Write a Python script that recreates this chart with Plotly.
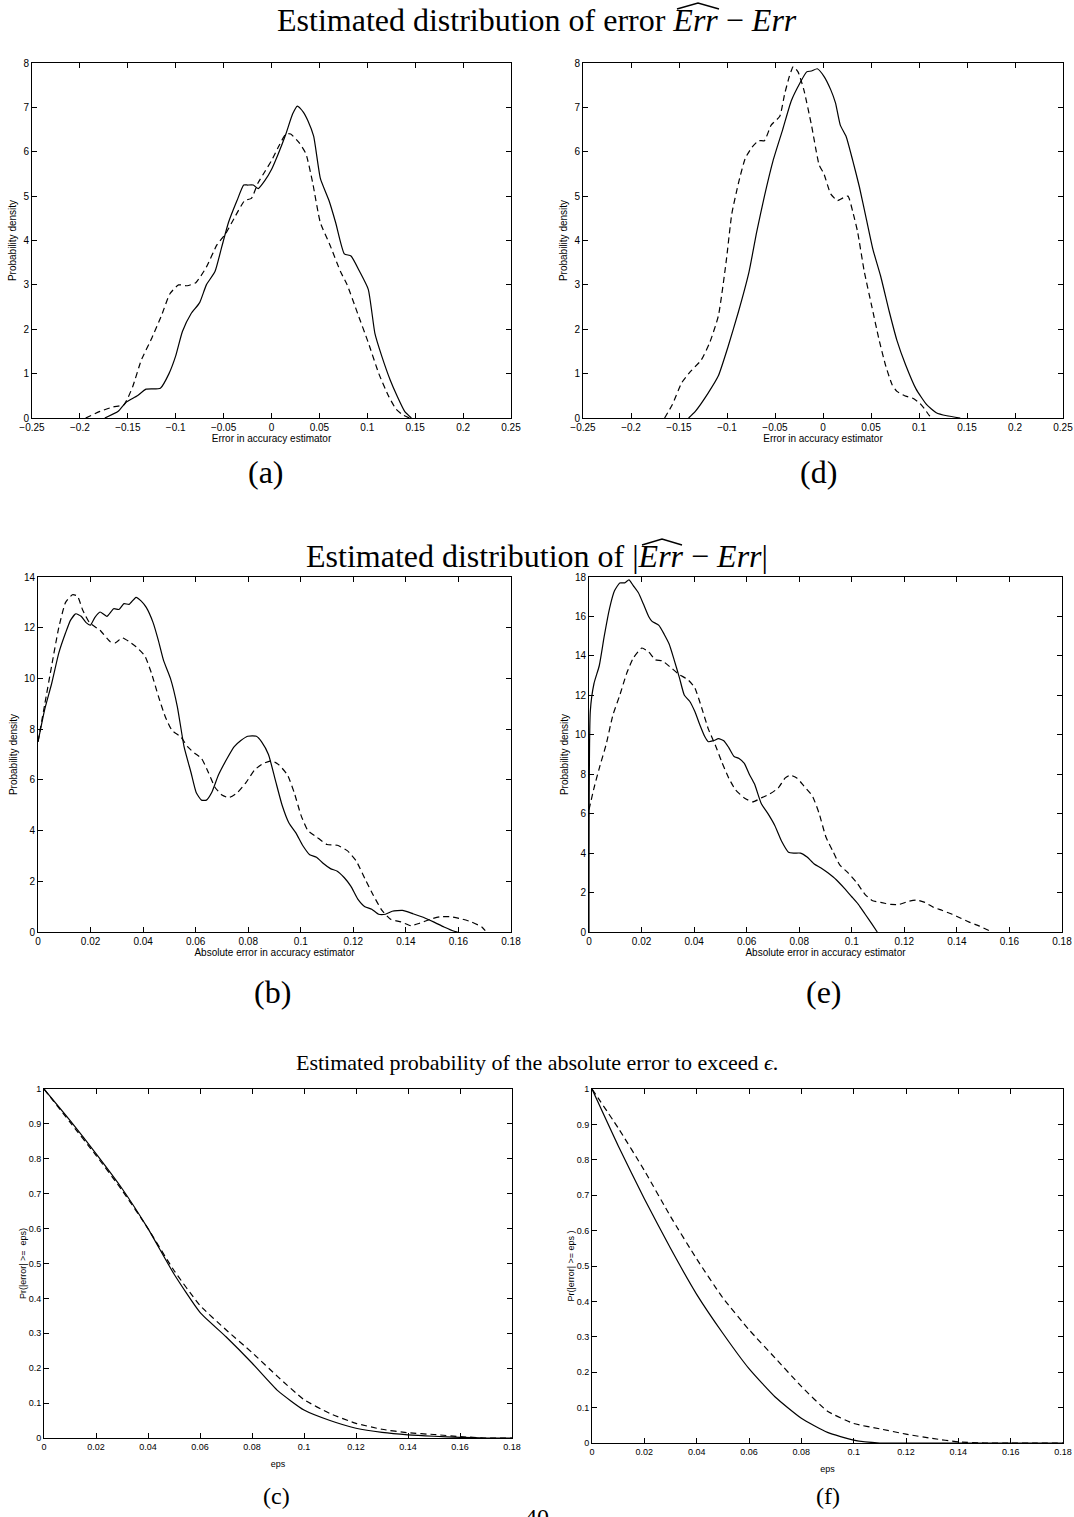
import plotly.graph_objects as go

W, H = 1074, 1517

# ---------------- data ----------------
# (a) error distribution, left column
a_solid_x = [-0.174, -0.16, -0.152, -0.14, -0.131, -0.116, -0.107, -0.1, -0.093, -0.084, -0.075, -0.068,
             -0.059, -0.052, -0.045, -0.036, -0.029, -0.025, -0.019, -0.014, -0.007, 0.0, 0.007, 0.015,
             0.022, 0.027, 0.033, 0.038, 0.044, 0.051, 0.06, 0.067, 0.076, 0.083, 0.092, 0.101, 0.108,
             0.115, 0.124, 0.131, 0.139, 0.146]
a_solid_y = [0.0, 0.15, 0.35, 0.5, 0.65, 0.67, 1.0, 1.4, 1.95, 2.35, 2.6, 3.0,
             3.3, 3.85, 4.4, 4.9, 5.25, 5.25, 5.25, 5.17, 5.35, 5.6, 5.95, 6.4,
             6.85, 7.03, 6.9, 6.7, 6.35, 5.4, 4.9, 4.4, 3.7, 3.65, 3.3, 2.9, 1.9,
             1.4, 0.85, 0.5, 0.15, 0.0]
a_dash_x = [-0.194, -0.179, -0.165, -0.154, -0.145, -0.136, -0.125, -0.115, -0.106, -0.097, -0.088,
            -0.079, -0.068, -0.057, -0.048, -0.039, -0.028, -0.021, -0.014, -0.007, 0.0, 0.007, 0.015,
            0.02, 0.029, 0.036, 0.043, 0.051, 0.061, 0.072, 0.079, 0.09, 0.101, 0.112, 0.122, 0.13,
            0.137, 0.144]
a_dash_y = [0.0, 0.15, 0.25, 0.3, 0.7, 1.3, 1.8, 2.3, 2.8, 3.0, 2.98,
            3.05, 3.4, 3.9, 4.15, 4.5, 4.9, 4.95, 5.3, 5.55, 5.8, 6.1, 6.4,
            6.4, 6.2, 5.95, 5.3, 4.4, 3.9, 3.3, 3.0, 2.35, 1.7, 1.0, 0.5, 0.2,
            0.07, 0.0]

# (d) error distribution, right column
d_solid_x = [-0.14, -0.133, -0.12, -0.109, -0.099, -0.088, -0.077, -0.069, -0.061, -0.052, -0.042,
             -0.033, -0.024, -0.017, -0.012, -0.006, 0.001, 0.008, 0.013, 0.018, 0.024, 0.031, 0.038,
             0.045, 0.052, 0.06, 0.069, 0.077, 0.086, 0.097, 0.108, 0.118, 0.129, 0.143]
d_solid_y = [0.0, 0.15, 0.55, 0.95, 1.6, 2.4, 3.3, 4.2, 5.0, 5.8, 6.5,
             7.15, 7.55, 7.8, 7.82, 7.87, 7.7, 7.4, 7.1, 6.6, 6.35, 5.8, 5.2,
             4.5, 3.8, 3.2, 2.4, 1.75, 1.2, 0.65, 0.3, 0.12, 0.05, 0.0]
d_dash_x = [-0.165, -0.157, -0.147, -0.138, -0.127, -0.118, -0.109, -0.101, -0.095, -0.088, -0.081,
            -0.074, -0.067, -0.061, -0.054, -0.045, -0.04, -0.035, -0.031, -0.026, -0.02, -0.012,
            -0.004, 0.001, 0.008, 0.015, 0.02, 0.026, 0.031, 0.036, 0.043, 0.051, 0.058, 0.065,
            0.072, 0.077, 0.085, 0.093, 0.1, 0.106, 0.111, 0.115]
d_dash_y = [0.0, 0.3, 0.8, 1.05, 1.3, 1.7, 2.3, 3.5, 4.6, 5.3, 5.85,
            6.1, 6.25, 6.25, 6.6, 6.8, 7.3, 7.7, 7.92, 7.8, 7.4, 6.6,
            5.7, 5.5, 5.05, 4.9, 4.95, 5.0, 4.65, 4.2, 3.3, 2.5, 1.8, 1.2,
            0.75, 0.6, 0.5, 0.45, 0.35, 0.2, 0.05, 0.0]

# (b) absolute error distribution, left column
b_solid_x = [0.0, 0.0026, 0.0052, 0.0079, 0.0105, 0.0124, 0.0144, 0.0164, 0.0183, 0.0199, 0.0216,
             0.0236, 0.0262, 0.0288, 0.0308, 0.0327, 0.0347, 0.0373, 0.0393, 0.0412, 0.0438, 0.0458,
             0.0478, 0.0504, 0.053, 0.0556, 0.0582, 0.0602, 0.0622, 0.0641, 0.0661, 0.0687, 0.072,
             0.0746, 0.0772, 0.0798, 0.0831, 0.0851, 0.0877, 0.0903, 0.0929, 0.0955, 0.0982, 0.1008,
             0.1034, 0.106, 0.1086, 0.1113, 0.1139, 0.1165, 0.1191, 0.1217, 0.1244, 0.127, 0.1296,
             0.1322, 0.1348, 0.1387, 0.1427, 0.1466, 0.1505, 0.1545, 0.1584, 0.1597]
b_solid_y = [7.5, 8.8, 9.8, 11.0, 11.8, 12.3, 12.55, 12.45, 12.2, 12.1, 12.4,
             12.62, 12.45, 12.75, 12.72, 12.95, 12.92, 13.2, 13.05, 12.8, 12.2, 11.5,
             10.7, 10.0, 8.9, 7.3, 6.3, 5.5, 5.2, 5.2, 5.5, 6.2, 6.85,
             7.3, 7.55, 7.72, 7.72, 7.5, 7.0, 6.0, 5.0, 4.3, 3.9, 3.4,
             3.05, 2.95, 2.7, 2.5, 2.4, 2.15, 1.8, 1.3, 1.0, 0.9, 0.7,
             0.7, 0.82, 0.85, 0.72, 0.58, 0.4, 0.2, 0.03, 0.0]
b_dash_x = [0.0, 0.0026, 0.0052, 0.0079, 0.0105, 0.0131, 0.015, 0.017, 0.0196, 0.0236, 0.0275,
            0.0294, 0.0321, 0.0347, 0.0373, 0.0406, 0.0432, 0.0458, 0.0484, 0.051, 0.0543, 0.057,
            0.0596, 0.0622, 0.0648, 0.0674, 0.07, 0.0726, 0.0759, 0.0792, 0.0825, 0.0858, 0.089,
            0.0916, 0.0949, 0.0975, 0.1001, 0.1027, 0.106, 0.11, 0.1139, 0.1178, 0.1211, 0.1244,
            0.1276, 0.1309, 0.1342, 0.1381, 0.142, 0.1453, 0.1492, 0.1531, 0.1571, 0.161, 0.1649,
            0.1689, 0.1702]
b_dash_y = [7.5, 9.0, 10.5, 12.0, 13.0, 13.3, 13.25, 12.7, 12.2, 11.9, 11.45,
            11.4, 11.6, 11.45, 11.25, 10.9, 10.2, 9.3, 8.5, 7.95, 7.7, 7.3,
            7.05, 6.85, 6.3, 5.7, 5.4, 5.3, 5.5, 5.9, 6.4, 6.65, 6.75,
            6.6, 6.2, 5.5, 4.6, 4.0, 3.75, 3.45, 3.42, 3.2, 2.8, 2.1,
            1.45, 0.85, 0.5, 0.4, 0.25, 0.35, 0.5, 0.6, 0.6, 0.52, 0.4,
            0.2, 0.05]

# (e) absolute error distribution, right column
e_solid_x = [0.0, 0.0005, 0.0019, 0.0039, 0.0058, 0.0078, 0.0097, 0.0117, 0.0136, 0.0152, 0.0169,
             0.0188, 0.0208, 0.0227, 0.024, 0.0266, 0.0286, 0.0305, 0.0324, 0.0344, 0.0363, 0.0383,
             0.0402, 0.0422, 0.0441, 0.0454, 0.0474, 0.0493, 0.0513, 0.0532, 0.0552, 0.0571, 0.0591,
             0.061, 0.063, 0.0656, 0.0681, 0.0707, 0.0733, 0.0759, 0.0779, 0.0805, 0.083, 0.0857,
             0.0883, 0.0909, 0.0941, 0.0973, 0.0999, 0.1025, 0.1051, 0.1077, 0.1097]
e_solid_y = [0.0, 11.2, 12.6, 13.5, 15.0, 16.4, 17.3, 17.7, 17.7, 17.85, 17.55,
             17.2, 16.6, 16.0, 15.75, 15.55, 15.1, 14.6, 13.8, 12.9, 12.0, 11.7,
             11.2, 10.5, 9.9, 9.65, 9.7, 9.8, 9.7, 9.35, 8.9, 8.8, 8.55,
             8.0, 7.5, 6.5, 6.0, 5.4, 4.6, 4.05, 4.0, 4.0, 3.8, 3.45,
             3.25, 3.0, 2.65, 2.2, 1.8, 1.4, 0.9, 0.4, 0.0]
e_dash_x = [0.0, 0.0019, 0.0039, 0.0065, 0.0091, 0.0117, 0.0143, 0.0169, 0.0201, 0.0227, 0.0253,
            0.0279, 0.0312, 0.0344, 0.0376, 0.0402, 0.0428, 0.0454, 0.048, 0.0506, 0.0532, 0.0558,
            0.0591, 0.0623, 0.0656, 0.0688, 0.072, 0.0746, 0.0766, 0.0792, 0.0818, 0.085, 0.0876,
            0.0902, 0.0928, 0.0954, 0.0986, 0.1019, 0.1051, 0.1077, 0.111, 0.1149, 0.1181, 0.1214,
            0.1246, 0.1278, 0.1311, 0.1343, 0.1382, 0.1415, 0.1447, 0.1486, 0.1525]
e_dash_y = [6.2, 7.3, 8.3, 9.5, 11.0, 12.0, 13.1, 13.9, 14.4, 14.2, 13.8,
            13.75, 13.4, 13.05, 12.8, 12.4, 11.4, 10.3, 9.5, 8.6, 7.8, 7.2,
            6.8, 6.6, 6.8, 7.0, 7.3, 7.8, 7.95, 7.8, 7.4, 6.9, 6.0,
            4.8, 4.1, 3.4, 3.0, 2.5, 1.9, 1.6, 1.5, 1.4, 1.4, 1.55,
            1.62, 1.5, 1.25, 1.1, 0.9, 0.7, 0.5, 0.3, 0.05]

# (c) exceedance probability, left column
eps_grid = [0.0, 0.01, 0.02, 0.03, 0.04, 0.05, 0.06, 0.07, 0.08, 0.09, 0.1, 0.11, 0.12, 0.13, 0.14,
            0.15, 0.16, 0.17, 0.18]
c_solid_y = [1.0, 0.91, 0.815, 0.715, 0.6, 0.47, 0.36, 0.29, 0.215, 0.135, 0.08, 0.05, 0.028,
             0.016, 0.009, 0.005, 0.002, 0.0, 0.0]
c_dash_y = [1.0, 0.905, 0.81, 0.71, 0.6, 0.48, 0.38, 0.31, 0.245, 0.175, 0.11, 0.07, 0.042,
            0.025, 0.015, 0.01, 0.004, 0.0, 0.0]
# (f) exceedance probability, right column
f_solid_y = [1.0, 0.84, 0.69, 0.55, 0.42, 0.31, 0.21, 0.13, 0.07, 0.03, 0.008, 0.0, 0.0,
             0.0, 0.0, 0.0, 0.0, 0.0, 0.0]
f_dash_y = [1.0, 0.89, 0.77, 0.64, 0.52, 0.41, 0.32, 0.24, 0.16, 0.09, 0.055, 0.04, 0.025,
            0.013, 0.003, 0.0, 0.0, 0.0, 0.0]

# tick definitions
err_ticks = [-0.25, -0.2, -0.15, -0.1, -0.05, 0, 0.05, 0.1, 0.15, 0.2, 0.25]
err_ticktext = ["\u22120.25", "\u22120.2", "\u22120.15", "\u22120.1", "\u22120.05", "0",
                "0.05", "0.1", "0.15", "0.2", "0.25"]
abs_ticks = [0, 0.02, 0.04, 0.06, 0.08, 0.1, 0.12, 0.14, 0.16, 0.18]
abs_ticktext = ["0", "0.02", "0.04", "0.06", "0.08", "0.1", "0.12", "0.14", "0.16", "0.18"]
dens8_ticks = [0, 1, 2, 3, 4, 5, 6, 7, 8]
dens14_ticks = [0, 2, 4, 6, 8, 10, 12, 14]
dens18_ticks = [0, 2, 4, 6, 8, 10, 12, 14, 16, 18]
prob_ticks = [0, 0.1, 0.2, 0.3, 0.4, 0.5, 0.6, 0.7, 0.8, 0.9, 1]
prob_ticktext = ["0", "0.1", "0.2", "0.3", "0.4", "0.5", "0.6", "0.7", "0.8", "0.9", "1"]

# ---------------- layout ----------------
SANS = "Liberation Sans, Arial, sans-serif"
NARROW = "Liberation Sans Narrow, Liberation Sans, Arial, sans-serif"
SERIF = "Liberation Serif, Times New Roman, serif"

panels = [
    dict(box=(32, 511, 63, 418), sx=a_solid_x, sy=a_solid_y, dx=a_dash_x, dy=a_dash_y,
         xr=[-0.25, 0.25], yr=[0, 8], xt=err_ticks, xtt=err_ticktext, yt=dens8_ticks,
         xtitle="Error in accuracy estimator", ytitle="Probability density", font=SANS, fs=10,
         xstand=0, ystand=4),
    dict(box=(583, 1063, 63, 418), sx=d_solid_x, sy=d_solid_y, dx=d_dash_x, dy=d_dash_y,
         xr=[-0.25, 0.25], yr=[0, 8], xt=err_ticks, xtt=err_ticktext, yt=dens8_ticks,
         xtitle="Error in accuracy estimator", ytitle="Probability density", font=SANS, fs=10,
         xstand=0, ystand=4),
    dict(box=(38, 511, 577, 932), sx=b_solid_x, sy=b_solid_y, dx=b_dash_x, dy=b_dash_y,
         xr=[0, 0.18], yr=[0, 14], xt=abs_ticks, xtt=abs_ticktext, yt=dens14_ticks,
         xtitle="Absolute error in accuracy estimator", ytitle="Probability density", font=SANS, fs=10,
         xstand=0, ystand=4),
    dict(box=(589, 1062, 577, 932), sx=e_solid_x, sy=e_solid_y, dx=e_dash_x, dy=e_dash_y,
         xr=[0, 0.18], yr=[0, 18], xt=abs_ticks, xtt=abs_ticktext, yt=dens18_ticks,
         xtitle="Absolute error in accuracy estimator", ytitle="Probability density", font=SANS, fs=10,
         xstand=0, ystand=4),
    dict(box=(44, 512, 1089, 1438), sx=eps_grid, sy=c_solid_y, dx=eps_grid, dy=c_dash_y,
         xr=[0, 0.18], yr=[0, 1], xt=abs_ticks, xtt=abs_ticktext, yt=prob_ticks, ytt=prob_ticktext,
         xtitle="eps", ytitle="Pr(|error| >=  eps)", font=NARROW, fs=9, xstand=9, ystand=0),
    dict(box=(592, 1063, 1089, 1443), sx=eps_grid, sy=f_solid_y, dx=eps_grid, dy=f_dash_y,
         xr=[0, 0.18], yr=[0, 1], xt=abs_ticks, xtt=abs_ticktext, yt=prob_ticks, ytt=prob_ticktext,
         xtitle="eps", ytitle="Pr(|error| >= eps )", font=NARROW, fs=9, xstand=9, ystand=0),
]

fig = go.Figure()
layout = dict(width=W, height=H, margin=dict(l=0, r=0, t=0, b=0, autoexpand=False),
              paper_bgcolor="white", plot_bgcolor="white", showlegend=False)

for i, p in enumerate(panels, start=1):
    x0, x1, y0, y1 = p["box"]
    xa = "xaxis" if i == 1 else f"xaxis{i}"
    ya = "yaxis" if i == 1 else f"yaxis{i}"
    xr_ = "x" if i == 1 else f"x{i}"
    yr_ = "y" if i == 1 else f"y{i}"
    common = dict(showline=True, linecolor="black", linewidth=1, mirror="ticks", ticks="inside",
                  ticklen=5, tickcolor="black", tickwidth=1, showgrid=False, zeroline=False,
                  automargin=False,
                  tickfont=dict(family=p["font"], size=p["fs"], color="black"))
    layout[xa] = dict(common, domain=[x0 / W, x1 / W], anchor=yr_, range=p["xr"],
                      tickmode="array", tickvals=p["xt"], ticktext=p["xtt"],
                      title=dict(text=p["xtitle"], font=dict(family=p["font"], size=p["fs"], color="black"),
                                 standoff=p["xstand"]))
    layout[ya] = dict(common, domain=[1 - y1 / H, 1 - y0 / H], anchor=xr_, range=p["yr"],
                      tickmode="array", tickvals=p["yt"],
                      ticktext=p.get("ytt", [str(v) for v in p["yt"]]),
                      title=dict(text=p["ytitle"], font=dict(family=p["font"], size=p["fs"], color="black"),
                                 standoff=p["ystand"]))
    fig.add_trace(go.Scatter(x=p["sx"], y=p["sy"], mode="lines", xaxis=xr_, yaxis=yr_,
                             line=dict(color="black", width=1.2, shape="spline", smoothing=0.5)))
    fig.add_trace(go.Scatter(x=p["dx"], y=p["dy"], mode="lines", xaxis=xr_, yaxis=yr_,
                             line=dict(color="black", width=1.2, dash="6px,4px", shape="spline",
                                       smoothing=0.5)))

annotations = []


def add_text(text, cx, cy, size=32, font=SERIF):
    annotations.append(dict(text=text, x=cx / W, y=1 - cy / H, xref="paper", yref="paper",
                            showarrow=False, xanchor="center", yanchor="middle",
                            font=dict(family=font, size=size, color="black")))


add_text("Estimated distribution of error <i>Err</i> \u2212 <i>Err</i>", 537, 20)
add_text("Estimated distribution of |<i>Err</i> \u2212 <i>Err</i>|", 537, 556)
add_text("Estimated probability of the absolute error to exceed <i>\u03f5</i>.", 537, 1062, size=22)
add_text("(a)", 266, 472)
add_text("(d)", 818, 472)
add_text("(b)", 272, 992)
add_text("(e)", 824, 992)
add_text("(c)", 276, 1496, size=24)
add_text("(f)", 828, 1496, size=24)
add_text("40", 537, 1517, size=24)

layout["annotations"] = annotations


# wide hats over the estimated quantity (typographic accents of the titles)
def hat(xl, xr, ybase, ytop):
    return dict(type="path", xref="paper", yref="paper",
                path=f"M {xl / W},{1 - ybase / H} L {(xl + xr) / 2 / W},{1 - ytop / H} "
                     f"L {xr / W},{1 - ybase / H}",
                line=dict(color="black", width=1.4))


layout["shapes"] = [hat(677, 719, 9, 3), hat(642, 682, 545, 539)]
fig.update_layout(**layout)
fig.write_html("out.html")
